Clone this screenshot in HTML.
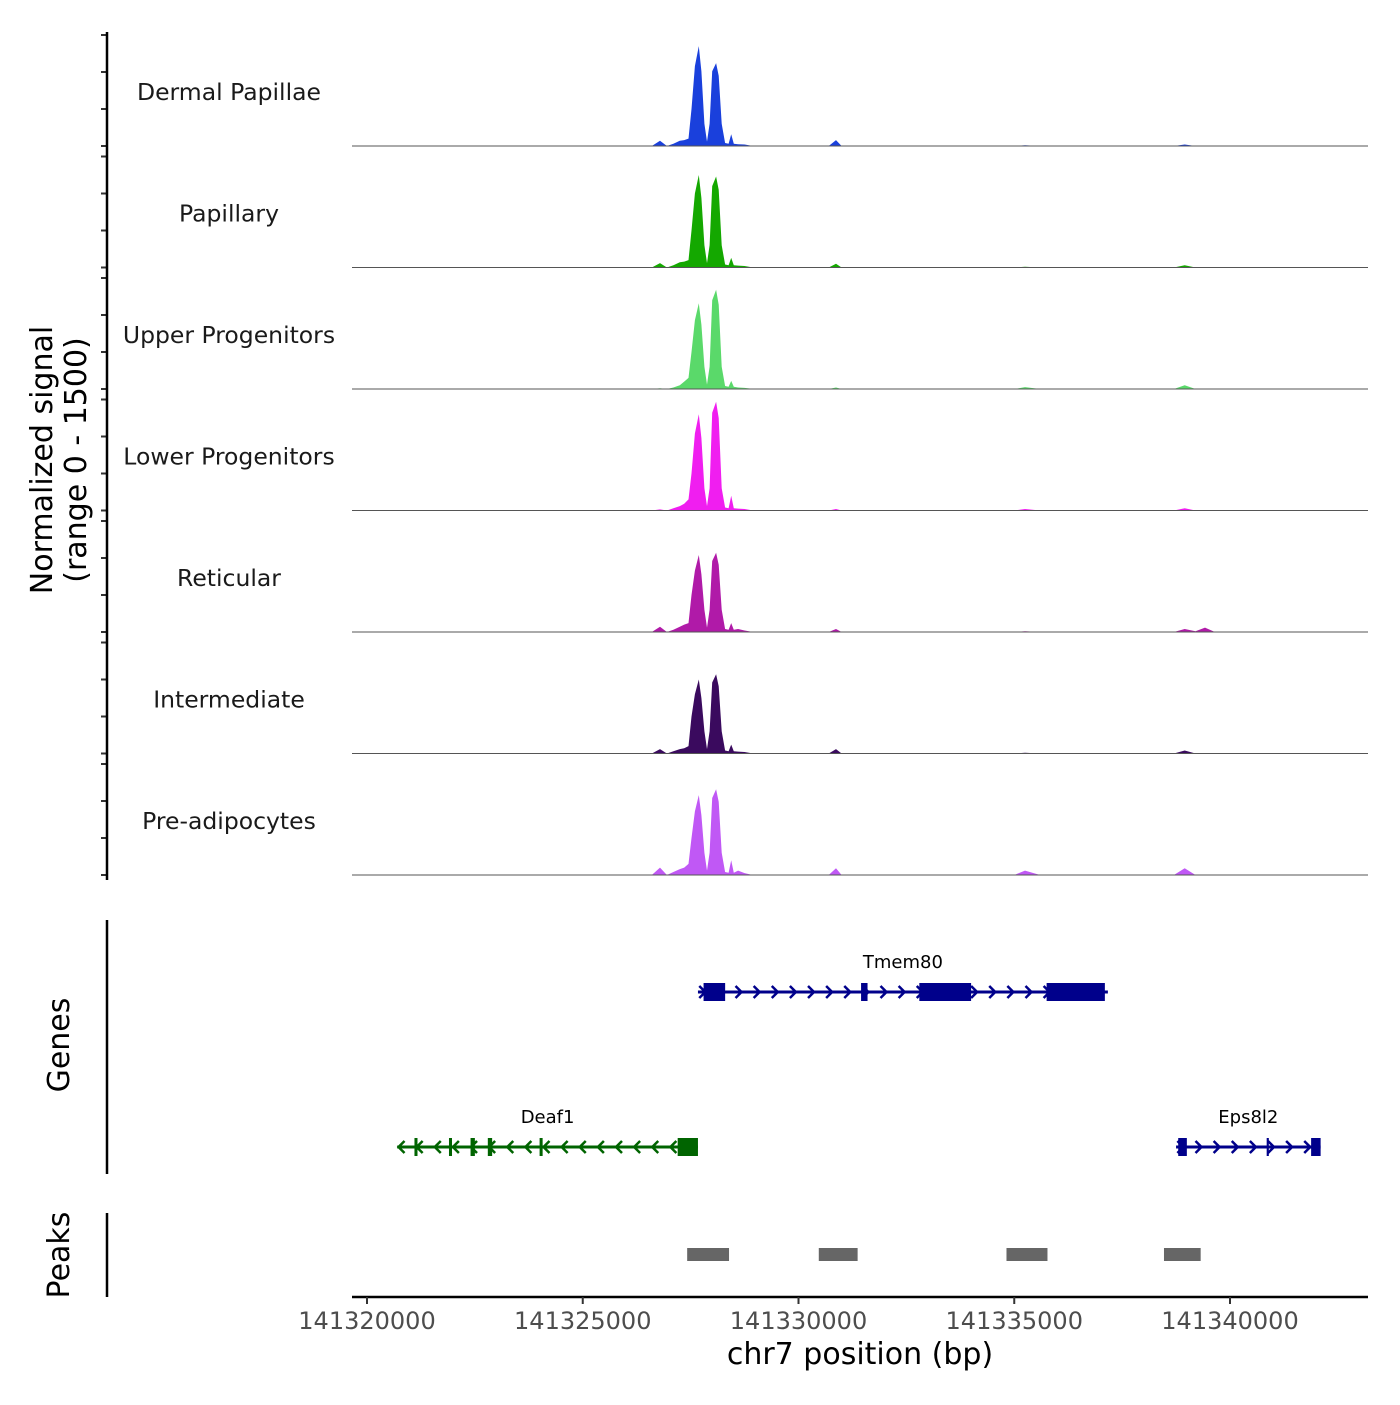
<!DOCTYPE html>
<html><head><meta charset="utf-8"><style>
body{margin:0;background:#fff}
svg text{font-family:"DejaVu Sans","Liberation Sans",sans-serif}
</style></head><body>
<svg id="chart" width="1400" height="1400" viewBox="0 0 1400 1400" xmlns="http://www.w3.org/2000/svg">
<g id="tracks"></g>
<g id="genes"></g>
<g id="peaks"></g>
<g id="axes"></g>
</svg>
<script>
const trackNames = ["Dermal Papillae","Papillary","Upper Progenitors","Lower Progenitors","Reticular","Intermediate","Pre-adipocytes"];
const trackColors = ["#1a40dc","#14a800","#5ad96a","#f01ef0","#b01aa8","#3a0a5e","#c058f5"];
// positions in kb offset from 141320000
const positions = [-0.4,6.6,6.79,6.95,7.1,7.25,7.35,7.45,7.52,7.6,7.69,7.75,7.82,7.88,7.94,8.0,8.09,8.15,8.22,8.3,8.38,8.44,8.5,8.6,8.75,8.9,10.7,10.87,11.0,15.0,15.25,15.6,18.7,18.95,19.2,19.42,19.65,23.1];
const valuesDermal   = [0,0,70,0,30,70,80,100,500,1080,1350,1010,300,60,300,1010,1120,950,300,40,30,160,30,25,20,5,0,80,0,0,10,0,0,20,0,0,0,0];
const valuesPapillary= [0,0,60,0,30,70,80,100,500,1000,1250,940,300,60,300,1100,1230,1050,300,40,30,130,30,25,20,5,0,50,0,0,10,0,0,30,0,0,0,0];
const valuesUpper    = [0,0,10,0,20,50,100,150,500,930,1160,870,300,60,300,1200,1340,1140,300,40,30,110,30,20,15,5,0,20,0,0,25,0,0,50,0,0,0,0];
const valuesLower    = [0,0,15,0,30,60,90,150,500,1040,1300,980,300,60,300,1320,1470,1250,300,40,30,200,30,25,20,5,0,20,0,0,20,0,0,30,0,0,0,0];
const valuesReticular= [0,0,70,0,30,70,100,120,500,830,1040,780,300,60,300,960,1070,910,300,40,30,120,30,40,20,5,0,40,0,0,10,0,0,40,10,60,0,0];
const valuesInterm   = [0,0,60,0,30,60,70,100,500,800,1000,750,300,60,300,960,1070,910,300,40,30,120,30,25,20,5,0,60,0,0,10,0,0,40,0,0,0,0];
const valuesPreadipo = [0,0,100,0,40,80,100,150,500,860,1080,810,300,60,300,1040,1160,990,300,40,30,200,30,60,25,5,0,90,0,0,60,0,0,90,0,0,0,0];
const trackValues = [valuesDermal,valuesPapillary,valuesUpper,valuesLower,valuesReticular,valuesInterm,valuesPreadipo];
const xTicks = [0,5,10,15,20];
const xTickLabels = ["141320000","141325000","141330000","141335000","141340000"];
const geneNames = ["Tmem80","Deaf1","Eps8l2"];
const geneStart = [7.67,0.7,18.75];
const geneEnd = [17.17,7.67,22.1];
const geneStrand = [1,-1,1];
const geneRow = [0,1,1];
const geneColors = ["#00008b","#006400","#00008b"];
const geneExons = [[[7.8,8.3],[11.45,11.6],[12.8,14.0],[15.75,17.1]],[[7.2,7.67],[1.1,1.17],[1.9,1.97],[2.4,2.5],[2.8,2.9],[4.0,4.07]],[[18.8,19.0],[20.85,20.9],[21.88,22.1]]];
const peakStart = [7.42,10.47,14.82,18.47];
const peakEnd = [8.39,11.37,15.77,19.32];

const NS="http://www.w3.org/2000/svg";
const xs = kb => 367 + kb*43.15;
const vs = v => v*111/1500;
function mk(tag, attrs, parent){const e=document.createElementNS(NS,tag);for(const k in attrs)e.setAttribute(k,attrs[k]);parent.appendChild(e);return e;}
const T=document.getElementById('tracks'),G=document.getElementById('genes'),P=document.getElementById('peaks'),A=document.getElementById('axes');

trackNames.forEach((name,i)=>{
  const b = 146 + i*121.5;
  let d = `M${xs(positions[0])},${b}`;
  positions.forEach((p,j)=>{d+=` L${xs(p).toFixed(1)},${(b-vs(trackValues[i][j])).toFixed(1)}`;});
  d += ` L${xs(positions[positions.length-1])},${b} Z`;
  const area = mk('path',{d:d,fill:trackColors[i]},T);
  
  
  const base = mk('line',{x1:352,x2:1368,y1:b,y2:b,stroke:'#555','stroke-width':1},T);
  
  
  const lab = mk('text',{x:229,y:b-46,'text-anchor':'middle','font-size':23.5,fill:'#1a1a1a'},T);
  lab.textContent=name;
  
  
  for(let k=0;k<4;k++){
    const t=mk('line',{x1:101,x2:107,y1:b-k*37,y2:b-k*37,stroke:'#333','stroke-width':2},A);
    
    
  }
});

geneNames.forEach((g,i)=>{
  const y = geneRow[i]===0?992:1147;
  const c = geneColors[i];
  const ln = mk('line',{x1:xs(geneStart[i]),x2:xs(geneEnd[i]),y1:y,y2:y,stroke:c,'stroke-width':3},G);
  
  
  for(let p=geneStart[i]+0.1;p<geneEnd[i];p+=0.42){
    const x=xs(p), s=geneStrand[i];
    const ch=mk('path',{d:`M${x-3*s},${y-6} L${x+3*s},${y} L${x-3*s},${y+6}`,stroke:c,'stroke-width':2.5,fill:'none'},G);
    
    
  }
  geneExons[i].forEach(e=>{
    const r=mk('rect',{x:xs(e[0]),y:y-9,width:xs(e[1])-xs(e[0]),height:18,fill:c},G);
    
    
  });
  const t=mk('text',{x:(xs(geneStart[i])+xs(geneEnd[i]))/2,y:y-24,'text-anchor':'middle','font-size':18,fill:'#000'},G);
  t.textContent=g;
  
  
});

peakStart.forEach((s,i)=>{
  const r=mk('rect',{x:xs(s),y:1248,width:xs(peakEnd[i])-xs(s),height:13,fill:'#666'},P);
  
  
});

[[32,880],[920,1174],[1213,1297]].forEach(r=>{
  const l=mk('line',{x1:107,x2:107,y1:r[0],y2:r[1],stroke:'#000','stroke-width':2.5},A);
  
  
});
const xl=mk('line',{x1:352,x2:1368,y1:1297,y2:1297,stroke:'#000','stroke-width':2.5},A);


xTicks.forEach((v,i)=>{
  const x=xs(v);
  const t=mk('line',{x1:x,x2:x,y1:1297,y2:1304,stroke:'#333','stroke-width':2},A);
  
  
  const tx=mk('text',{x:x,y:1329,'text-anchor':'middle','font-size':24,fill:'#4d4d4d'},A);
  tx.textContent=xTickLabels[i];
  
  
});
const xt=mk('text',{x:860,y:1364,'text-anchor':'middle','font-size':30,fill:'#000'},A);
xt.textContent='chr7 position (bp)';


const yt=mk('text',{transform:'translate(52,460) rotate(-90)','text-anchor':'middle','font-size':30,fill:'#000'},A);


const s1=mk('tspan',{x:0,dy:0},yt); s1.textContent='Normalized signal';
const s2=mk('tspan',{x:0,dy:34},yt); s2.textContent='(range 0 - 1500)';
[['Genes',1045],['Peaks',1255]].forEach(a=>{
  const t=mk('text',{transform:`translate(69,${a[1]}) rotate(-90)`,'text-anchor':'middle','font-size':30,fill:'#000'},A);
  t.textContent=a[0];
  
  
});
</script>
</body></html>
